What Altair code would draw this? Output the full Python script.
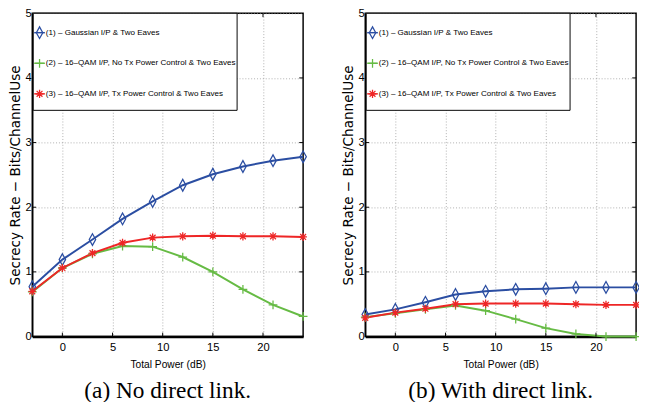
import altair as alt
import pandas as pd

# ---------------- data ----------------
x_vals = [-3, 0, 3, 6, 9, 12, 15, 18, 21, 24]
series_names = [
    "(1) – Gaussian I/P & Two Eaves",
    "(2) – 16–QAM I/P, No Tx Power Control & Two Eaves",
    "(3) – 16–QAM I/P, Tx Power Control & Two Eaves",
]
# panel (a): no direct link
a_gauss = [0.77, 1.19, 1.50, 1.82, 2.09, 2.34, 2.51, 2.63, 2.72, 2.78]
a_noctrl = [0.69, 1.06, 1.28, 1.40, 1.39, 1.23, 1.00, 0.73, 0.49, 0.31]
a_ctrl = [0.70, 1.06, 1.29, 1.45, 1.53, 1.55, 1.56, 1.55, 1.55, 1.54]
# panel (b): with direct link
b_gauss = [0.34, 0.42, 0.53, 0.65, 0.70, 0.73, 0.74, 0.76, 0.76, 0.76]
b_noctrl = [0.30, 0.36, 0.42, 0.48, 0.40, 0.27, 0.13, 0.04, 0.00, 0.00]
b_ctrl = [0.29, 0.37, 0.43, 0.50, 0.51, 0.51, 0.51, 0.50, 0.49, 0.49]
captions = ["(a) No direct link.", "(b) With direct link."]
x_ticks = [0, 5, 10, 15, 20]
y_ticks = [0, 1, 2, 3, 4, 5]
x_title = "Total Power (dB)"
y_title = "Secrecy Rate − Bits/ChannelUse"

# ---------------- style ----------------
colors = ["#2b4ea2", "#66bb44", "#ee2626"]
marker_paths = [
    "M0,-1L0.55,0L0,1L-0.55,0Z",
    "M-0.75,0L0.75,0M0,-0.75L0,0.75",
    "M-0.65,0L0.65,0M0,-0.7L0,0.7M-0.5,-0.5L0.5,0.5M-0.5,0.5L0.5,-0.5",
]
W, H = 279, 333
LAB_FONT = "Liberation Sans, Arial"


def panel(vals, caption):
    df = pd.DataFrame({
        "x": x_vals * 3,
        "y": vals[0] + vals[1] + vals[2],
        "series": [s for s in series_names for _ in x_vals],
    })
    xs = alt.X("x:Q", scale=alt.Scale(domain=[-3, 24], nice=False, zero=False),
               axis=alt.Axis(values=x_ticks, title=x_title, format="d"))
    ys = alt.Y("y:Q", scale=alt.Scale(domain=[0, 5], nice=False),
               axis=alt.Axis(values=y_ticks, title=y_title, format="d", titleX=-10))
    color = alt.Color("series:N", scale=alt.Scale(domain=series_names, range=colors), legend=None)
    shape = alt.Shape("series:N", scale=alt.Scale(domain=series_names, range=marker_paths), legend=None)

    lines = alt.Chart(df).mark_line(strokeWidth=2).encode(xs, ys, color)
    pts = alt.Chart(df).mark_point(filled=False, strokeWidth=1.3, size=144, opacity=1).encode(
        xs, ys, color, shape)

    # inward ticks (MATLAB style)
    tx = pd.DataFrame({"x": x_ticks})
    ty = pd.DataFrame({"y": y_ticks[1:-1]})
    tick_x_b = alt.Chart(tx).mark_rule(color="black", strokeWidth=1).encode(
        x="x:Q", y=alt.value(H), y2=alt.value(H - 4))
    tick_x_t = alt.Chart(tx).mark_rule(color="black", strokeWidth=1).encode(
        x="x:Q", y=alt.value(0), y2=alt.value(4))
    tick_y_l = alt.Chart(ty).mark_rule(color="black", strokeWidth=1).encode(
        y="y:Q", x=alt.value(0), x2=alt.value(4))
    tick_y_r = alt.Chart(ty).mark_rule(color="black", strokeWidth=1).encode(
        y="y:Q", x=alt.value(W - 4), x2=alt.value(W))

    # legend box
    one = pd.DataFrame({"a": [0]})
    box = alt.Chart(one).mark_rect(fill="white", stroke="black", strokeWidth=1).encode(
        x=alt.value(1), x2=alt.value(211), y=alt.value(0), y2=alt.value(100))
    leg_layers = [box]
    for i, name in enumerate(series_names):
        yy = 20 + 31.5 * i
        ldf = pd.DataFrame({"label": [name]})
        leg_layers.append(alt.Chart(ldf).mark_rule(color=colors[i], strokeWidth=1.5).encode(
            x=alt.value(2), x2=alt.value(13), y=alt.value(yy)))
        leg_layers.append(alt.Chart(ldf).mark_point(
            filled=False, strokeWidth=1.3, size=144, opacity=1, color=colors[i],
            shape=marker_paths[i]).encode(x=alt.value(7.5), y=alt.value(yy)))
        leg_layers.append(alt.Chart(ldf).mark_text(
            align="left", baseline="middle", font=LAB_FONT, fontSize=8.3, color="black").encode(
            x=alt.value(14), y=alt.value(yy), text="label:N"))

    layer = alt.layer(lines, pts, tick_x_b, tick_x_t, tick_y_l, tick_y_r, *leg_layers).properties(
        width=W, height=H,
        title=alt.TitleParams(caption, orient="bottom", font="Liberation Serif", fontSize=24,
                              fontWeight="normal", color="black", offset=10, anchor="middle"),
    )
    return layer


pa = panel([a_gauss, a_noctrl, a_ctrl], captions[0])
pb = panel([b_gauss, b_noctrl, b_ctrl], captions[1])

chart = alt.hconcat(pa, pb, spacing=31).properties(
    padding={"left": 0, "top": -7.5, "right": -5, "bottom": -8}, background="white"
).configure_view(
    stroke="black", strokeWidth=1.5, fill="white"
).configure_axis(
    grid=True, gridDash=[1, 2], gridColor="#999999", gridWidth=0.8,
    domainColor="black", ticks=False, labelFont=LAB_FONT, labelFontSize=11.5,
    labelColor="black", titleColor="black", titleFontWeight="normal",
).configure_axisX(
    domainWidth=2.5, labelPadding=5, titleFont=LAB_FONT, titleFontSize=10.5, titlePadding=7,
).configure_axisY(
    domainWidth=1.5, labelPadding=1, titleFont="DejaVu Sans", titleFontSize=14,
)

chart.save("out.html", embed_options={"renderer": "svg", "actions": False})
